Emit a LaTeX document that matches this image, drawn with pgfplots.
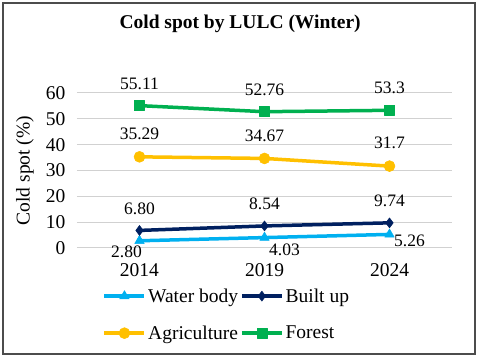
\documentclass[border=0pt]{standalone}
\usepackage{pgfplots}
\usepackage{pgfplotstable}
\pgfplotsset{compat=1.18}
\usepackage{fontspec}
\setmainfont{Liberation Serif}

\definecolor{waterc}{RGB}{0,176,240}
\definecolor{builtc}{RGB}{0,32,96}
\definecolor{agric}{RGB}{255,192,0}
\definecolor{forestc}{RGB}{0,176,80}

% x, value, label text, label offset (dx, dy in pt)
\pgfplotstableread{
x y lab dx dy
0 2.80 2.80 -13 -11
1 4.03 4.03 20 -12
2 5.26 5.26 20 -6
}\water
\pgfplotstableread{
x y lab dx dy
0 6.80 6.80 0 22
1 8.54 8.54 0 22
2 9.74 9.74 0 22
}\built
\pgfplotstableread{
x y lab dx dy
0 35.29 35.29 0 23
1 34.67 34.67 0 23
2 31.7 31.7 0 23
}\agri
\pgfplotstableread{
x y lab dx dy
0 55.11 55.11 0 22
1 52.76 52.76 0 22
2 53.3 53.3 0 22
}\forest

\begin{document}
\begin{tikzpicture}
\useasboundingbox[fill=white] (-77pt,-110pt) rectangle (403pt,248pt);
\draw[black!70, line width=1.5pt] (-74pt,-106pt) rectangle (398pt,245pt);
\begin{axis}[
    at={(0,0)}, anchor=south west,
    scale only axis,
    width=375pt, height=155pt,
    xmin=-0.5, xmax=2.5,
    ymin=0, ymax=60,
    xtick={0,1,2},
    xticklabels={2014,2019,2024},
    ytick={0,10,...,60},
    axis line style={draw=none},
    major tick length=0pt,
    ymajorgrids,
    grid style={black!18, line width=1pt},
    /pgf/number format/assume math mode=true,
    tick label style={font=\fontsize{19.5}{22}\selectfont},
    xticklabel style={anchor=center, yshift=-22pt},
    yticklabel style={xshift=-8pt},
    ylabel={Cold spot (\%)},
    ylabel style={font=\fontsize{19.5}{22}\selectfont, at={(axis description cs:-0.139,0.5)}, anchor=center},
    title={\textbf{Cold spot by LULC (Winter)}},
    title style={font=\fontsize{19.5}{22}\selectfont, at={(axis description cs:0.435,1.406)}, anchor=center},
    legend columns=2,
    legend cell align=left,
    legend style={draw=none, fill=none, font=\fontsize{19.5}{22}\selectfont,
        at={(axis description cs:0.06,-0.235)}, anchor=north west,
        row sep=18pt,
        /tikz/every even column/.append style={column sep=0pt}},
    legend image code/.code={\draw[mark repeat=2,mark phase=2] plot coordinates {(0pt,0pt)(20pt,0pt)(40pt,0pt)};},
    point meta=explicit symbolic,
    nodes near coords,
    visualization depends on={\thisrow{dx}\as\dx},
    visualization depends on={\thisrow{dy}\as\dy},
    every node near coord/.append style={anchor=center, text=black,
        font=\fontsize{17.5}{20}\selectfont, xshift=\dx pt, yshift=\dy pt},
    every axis plot/.append style={line width=3.5pt, line join=round},
]
\addplot[color=waterc, mark=triangle*, mark size=5.5pt, mark options={solid, line width=0.5pt}] table[x=x, y=y, meta=lab] {\water};
\addlegendentry{Water body}
\addplot[color=builtc, mark=diamond*, mark size=5pt, mark options={solid, line width=0.5pt}] table[x=x, y=y, meta=lab] {\built};
\addlegendentry{Built up}
\addplot[color=agric, mark=*, mark size=5.5pt, mark options={solid, line width=0.5pt}] table[x=x, y=y, meta=lab] {\agri};
\addlegendentry{Agriculture}
\addplot[color=forestc, mark=square*, mark size=5pt, mark options={solid, line width=0.5pt}] table[x=x, y=y, meta=lab] {\forest};
\addlegendentry{Forest}
\end{axis}
\end{tikzpicture}
\end{document}
